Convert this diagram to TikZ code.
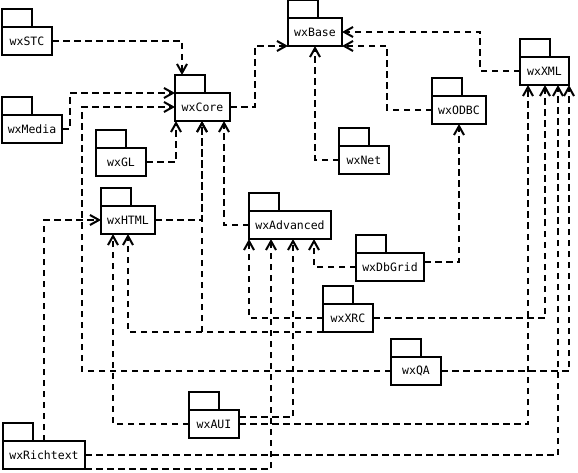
\documentclass[tikz,border=0pt]{standalone}
\usepackage{fontspec}
\setmonofont{DejaVu Sans Mono}
\usetikzlibrary{arrows.meta}
\begin{document}
\begin{tikzpicture}[x=1pt,y=-1pt,
  pkg/.style={draw, line width=2pt, inner sep=0pt, outer sep=0pt, minimum height=28pt, anchor=north west,
    font=\ttfamily\fontsize{11.5}{12}\selectfont},
  tabline/.style={line width=2pt},
  dep/.style={line width=2pt, dash pattern=on 6.5pt off 4.5pt,
    -{Straight Barb[length=9pt,width=10pt]}}]
\useasboundingbox (0,0) rectangle (578,473);
\newcommand\pkgbox[5]{%
  \node[pkg, minimum width=#4pt] (#1) at (#2,#3) {#5};
  \draw[tabline] (#1.north west) rectangle ++(30,-18);}
\pkgbox{stc}{2}{27}{50}{wxSTC}
\pkgbox{base}{288}{18}{54}{wxBase}
\pkgbox{core}{175}{93}{55}{wxCore}
\pkgbox{media}{2}{115}{60}{wxMedia}
\pkgbox{gl}{96}{148}{50}{wxGL}
\pkgbox{html}{101}{206}{54}{wxHTML}
\pkgbox{xml}{520}{57}{49}{wxXML}
\pkgbox{odbc}{432}{96}{54}{wxODBC}
\pkgbox{net}{339}{146}{50}{wxNet}
\pkgbox{adv}{249}{211}{82}{wxAdvanced}
\pkgbox{dbgrid}{356}{253}{68}{wxDbGrid}
\pkgbox{xrc}{323}{304}{50}{wxXRC}
\pkgbox{qa}{391}{357}{50}{wxQA}
\pkgbox{aui}{189}{410}{50}{wxAUI}
\pkgbox{rich}{3}{441}{82}{wxRichtext}
% connectors
\draw[dep] (stc.east) -| ([xshift=7pt,yshift=18pt]core.north west);
\draw[dep] (core.east) -- ++(25,0) |- (base.south west);
\draw[dep] (media.east) -- ++(8,0) |- (core.north west);
\draw[dep] (qa.west) -- ++(-309,0) |- (core.west);
\draw[dep] (gl.east) -| ([xshift=1pt]core.south west);
\draw[dep] (html.east) -| ([xshift=27pt]core.south west);
\draw[dep] (xrc.south west) -| ([xshift=27pt]core.south west);
\draw[dep] (adv.west) -| ([xshift=49pt]core.south west);
\draw[dep] (net.west) -| ([xshift=27pt]base.south west);
\draw[dep] (odbc.west) -- ++(-45,0) |- (base.south east);
\draw[dep] (xml.west) -- ++(-40,0) |- (base.east);
\draw[dep] ([yshift=5pt]dbgrid.east) -| ([xshift=27pt]odbc.south west);
\draw[dep] (dbgrid.west) -| ([xshift=65pt]adv.south west);
\draw[dep] (xrc.west) -| (adv.south west);
\draw[dep] (xrc.south west) -| ([xshift=27pt]html.south west);
\draw[dep] (xrc.east) -| ([xshift=25pt]xml.south west);
\draw[dep] (aui.west) -| ([xshift=12pt]html.south west);
\draw[dep] ([yshift=7pt]aui.east) -| ([xshift=44pt]adv.south west);
\draw[dep] (aui.east) -| ([xshift=8pt]xml.south west);
\draw[dep] ([xshift=41pt]rich.north west) |- (html.west);
\draw[dep] (rich.south east) -| ([xshift=22pt]adv.south west);
\draw[dep] (rich.east) -| ([xshift=38pt]xml.south west);
\draw[dep] (qa.east) -| (xml.south east);
\end{tikzpicture}
\end{document}
